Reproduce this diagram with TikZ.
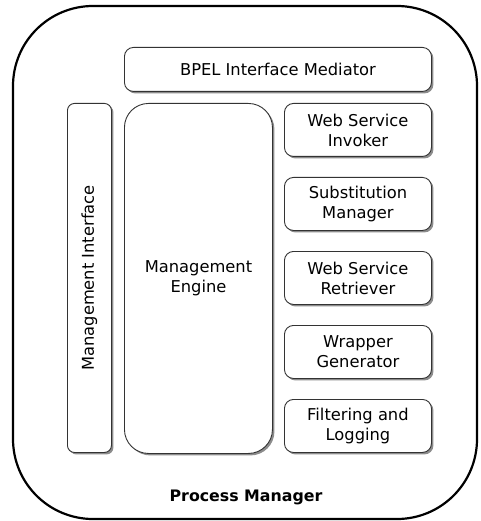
\documentclass[tikz,border=0pt]{standalone}
\usepackage{fontspec}
\setmainfont{DejaVu Sans}
\usetikzlibrary{shadows}
\begin{document}
\begin{tikzpicture}[x=1pt,y=-1pt,
  box/.style={draw=black!80, line width=0.9pt, fill=white, rounded corners=9pt,
    drop shadow={shadow xshift=2pt, shadow yshift=-2pt, fill=black!45, opacity=1},
    align=center, font=\fontsize{16.3}{20}\selectfont},
  lbl/.style={align=center, font=\fontsize{16.3}{20}\selectfont}]
\useasboundingbox (0,0) rectangle (480,521);
\draw[line width=2.2pt, rounded corners=80pt] (13,6) rectangle (477,519);
% BPEL
\node[box, minimum width=307pt, minimum height=44pt, anchor=north west] (bpel) at (124,47) {BPEL Interface Mediator};
% Management interface
\node[box, rounded corners=7pt, minimum width=44pt, minimum height=349pt, anchor=north west] (mi) at (67,103) {};
\node[lbl, rotate=90] (mitxt) at (mi.center) {Management Interface};
% Management engine
\node[box, rounded corners=24pt, minimum width=148pt, minimum height=350pt, anchor=north west] (me) at (124,103) {Management\\Engine};
% right column
\node[box, minimum width=147pt, minimum height=53pt, anchor=north west] (wsi) at (284,103) {Web Service\\Invoker};
\node[box, minimum width=147pt, minimum height=53pt, anchor=north west] (sm) at (284,177) {Substitution\\Manager};
\node[box, minimum width=147pt, minimum height=53pt, anchor=north west] (wsr) at (284,251) {Web Service\\Retriever};
\node[box, minimum width=147pt, minimum height=53pt, anchor=north west] (wg) at (284,325) {Wrapper\\Generator};
\node[box, minimum width=147pt, minimum height=53pt, anchor=north west] (fl) at (284,399) {Filtering and\\Logging};
\node[lbl, font=\fontsize{15.8}{19}\selectfont\bfseries] (pm) at (246,497) {Process Manager};
\end{tikzpicture}
\end{document}
